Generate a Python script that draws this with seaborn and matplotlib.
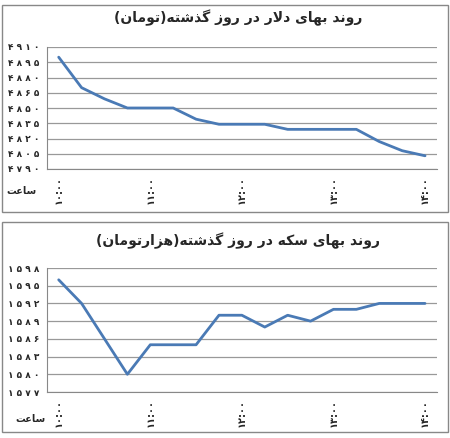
import matplotlib
matplotlib.use('Agg')
import matplotlib.pyplot as plt
import seaborn as sns
import numpy as np
from matplotlib.patches import Rectangle

sns.set_style('white')
plt.rcParams['font.family'] = ['DejaVu Sans']

# data
dollar = [4900, 4870, 4859, 4850, 4850, 4850, 4839, 4834, 4834, 4834, 4829, 4829, 4829, 4829, 4817, 4808, 4803]
coin = [1596, 1592, 1586, 1580, 1585, 1585, 1585, 1590, 1590, 1588, 1590, 1589, 1591, 1591, 1592, 1592, 1592]
dollar_ticks = [4790, 4805, 4820, 4835, 4850, 4865, 4880, 4895, 4910]
coin_ticks = [1577, 1580, 1583, 1586, 1589, 1592, 1595, 1598]
time_labels = ['۱۰:۰۰', '۱۱:۰۰', '۱۲:۰۰', '۱۳:۰۰', '۱۴:۰۰']
title_dollar = 'روند بهای دلار در روز گذشته(تومان)'
title_coin = 'روند بهای سکه در روز گذشته(هزارتومان)'
hour_label = 'ساعت'

# tiny arabic shaper: (isolated, final, initial, medial)
FORMS = {
    'ا': (0xFE8D, 0xFE8E, None, None), 'د': (0xFEA9, 0xFEAA, None, None),
    'ذ': (0xFEAB, 0xFEAC, None, None), 'ر': (0xFEAD, 0xFEAE, None, None),
    'ز': (0xFEAF, 0xFEB0, None, None), 'و': (0xFEED, 0xFEEE, None, None),
    'ب': (0xFE8F, 0xFE90, 0xFE91, 0xFE92), 'ت': (0xFE95, 0xFE96, 0xFE97, 0xFE98),
    'س': (0xFEB1, 0xFEB2, 0xFEB3, 0xFEB4), 'ش': (0xFEB5, 0xFEB6, 0xFEB7, 0xFEB8),
    'ع': (0xFEC9, 0xFECA, 0xFECB, 0xFECC), 'ل': (0xFEDD, 0xFEDE, 0xFEDF, 0xFEE0),
    'م': (0xFEE1, 0xFEE2, 0xFEE3, 0xFEE4), 'ن': (0xFEE5, 0xFEE6, 0xFEE7, 0xFEE8),
    'ه': (0xFEE9, 0xFEEA, 0xFEEB, 0xFEEC), 'ی': (0xFBFC, 0xFBFD, 0xFBFE, 0xFBFF),
    'ک': (0xFB8E, 0xFB8F, 0xFB90, 0xFB91), 'گ': (0xFB92, 0xFB93, 0xFB94, 0xFB95),
}


def shape(s):
    s = s.replace('لا', '\uE000')
    out = []
    for i, c in enumerate(s):
        prev = s[i - 1] if i > 0 else ''
        nxt = s[i + 1] if i + 1 < len(s) else ''
        joins_prev = prev in FORMS and FORMS[prev][2] is not None
        if c == '\uE000':
            out.append(chr(0xFEFC if joins_prev else 0xFEFB))
            continue
        if c not in FORMS:
            out.append({'(': ')', ')': '('}.get(c, c))
            continue
        f = FORMS[c]
        joins_next = f[2] is not None and (nxt in FORMS or nxt == '\uE000')
        if joins_prev and joins_next:
            out.append(chr(f[3]))
        elif joins_prev:
            out.append(chr(f[1]))
        elif joins_next:
            out.append(chr(f[2]))
        else:
            out.append(chr(f[0]))
    return ''.join(out[::-1])


fa_digits = str.maketrans('0123456789', '۰۱۲۳۴۵۶۷۸۹')

fig = plt.figure(figsize=(4.5, 4.38), dpi=100)
line_color = '#4a7ab5'


def panel(rect, box, values, yticks, title, title_y):
    fig.patches.append(Rectangle((box[0], box[1]), box[2], box[3], transform=fig.transFigure,
                                 fill=False, edgecolor='#888888', linewidth=1))
    ax = fig.add_axes(rect)
    sns.lineplot(x=np.arange(len(values)), y=values, ax=ax, color=line_color, linewidth=2)
    ax.set_xlim(-0.5, len(values) - 0.5)
    ax.set_ylim(yticks[0], yticks[-1])
    ax.set_yticks(yticks)
    ax.set_yticklabels([' '.join(str(t).translate(fa_digits)) for t in yticks], fontsize=6.5, fontweight='bold')
    ax.yaxis.grid(True, color='#999999', linewidth=0.9)
    ax.set_xticks(np.arange(-0.5, len(values)), minor=True)
    ax.set_xticks(np.arange(0, len(values), 4))
    ax.set_xticklabels(time_labels, rotation=90, fontsize=7, fontweight='bold')
    ax.tick_params(axis='x', which='major', length=0, pad=5)
    ax.tick_params(axis='x', which='minor', length=4, color='#888888', direction='out')
    ax.tick_params(axis='y', length=0, pad=6)
    for s in ['top', 'right']:
        ax.spines[s].set_visible(False)
    ax.spines['left'].set_color('#888888')
    ax.spines['bottom'].set_color('#888888')
    fig.text(0.53, title_y, shape(title), ha='center', va='center', fontsize=10, fontweight='bold')
    return ax


ax1 = panel([0.105, 1 - 169 / 438, 0.865, 122 / 438], [0.005, 1 - 212 / 438, 0.99, 207 / 438],
            dollar, dollar_ticks, title_dollar, 1 - 18 / 438)
ax2 = panel([0.105, 1 - 392 / 438, 0.865, 124 / 438], [0.005, 1 - 432 / 438, 0.99, 210 / 438],
            coin, coin_ticks, title_coin, 1 - 241 / 438)
fig.text(0.015, 1 - 191 / 438, shape(hour_label), fontsize=7, fontweight='bold', va='center')
fig.text(0.035, 1 - 419 / 438, shape(hour_label), fontsize=7, fontweight='bold', va='center')

fig.savefig('out.png', dpi=100)
